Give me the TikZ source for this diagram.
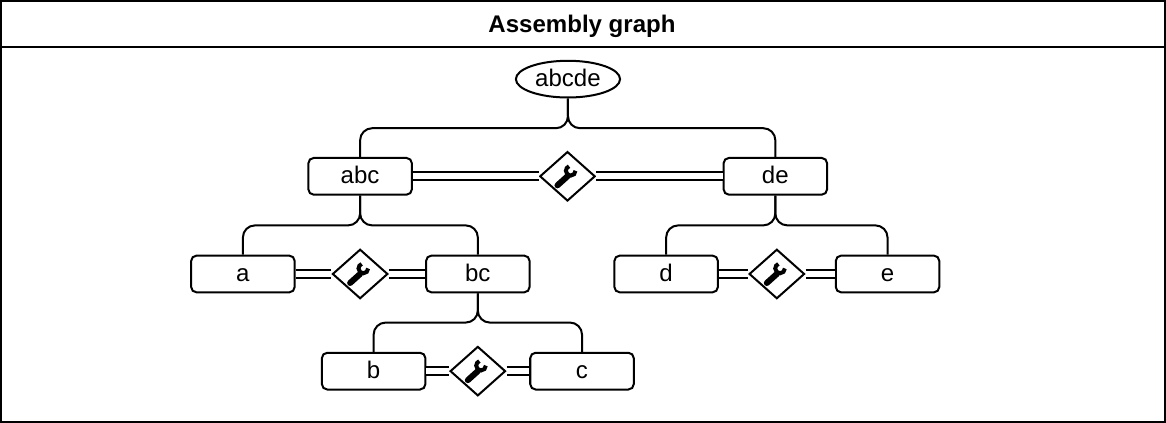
\documentclass[tikz,border=0pt]{standalone}
\usepackage{fontspec}
\setmainfont{Liberation Sans}
\usetikzlibrary{shapes.geometric}
\tikzset{
  label text/.style={text height=13.4pt,text depth=2.6pt,font=\fontsize{18}{20}\selectfont},
  part/.style={draw,rectangle,rounded corners=4pt,line width=1.5pt,fill=white,minimum width=77.5pt,minimum height=27.5pt,inner sep=0pt,label text},
  root/.style={draw,ellipse,line width=1.5pt,fill=white,minimum width=78pt,minimum height=27.5pt,inner sep=0pt,label text},
  joint/.style={draw,diamond,line width=1.5pt,fill=white,minimum width=41.5pt,minimum height=37pt,inner sep=0pt},
  tree/.style={line width=1.5pt,rounded corners=9pt},
  mate/.style={line width=1.5pt,double,double distance=4.3pt},
  wrench/.pic={
    \draw[line width=4.5pt,line cap=round,black] (-10,9) -- (0,0);
    \draw[line width=3pt,black] (8,-5.5) arc[start angle=0,end angle=250,radius=4.8];
  }
}
\begin{document}
\begin{tikzpicture}[x=0.75pt,y=-0.75pt]
\useasboundingbox (0,0) rectangle (1164,422);
% Draw frame
\draw[line width=1.5pt] (1,1) rectangle (1163,421);
\draw[line width=1.5pt] (1,47) -- (1163,47);
\node[label text,font=\fontsize{18}{20}\selectfont\bfseries] (title) at (581,25) {Assembly graph};
% Draw parts
\node[root] (abcde) at (567,79) {abcde};
\node[part] (abc) at (359.5,176) {abc};
\node[part] (de) at (774,176) {de};
\node[part] (a) at (242.5,273.5) {a};
\node[part] (bc) at (477,273.5) {bc};
\node[part] (d) at (665,273.5) {d};
\node[part] (e) at (886,273.5) {e};
\node[part] (b) at (373,370.5) {b};
\node[part] (c) at (581,370.5) {c};
% Draw joints
\node[joint] (jabc) at (566.5,176) {};
\node[joint] (ja) at (359.5,273.5) {};
\node[joint] (jd) at (775.5,273.5) {};
\node[joint] (jb) at (477,370.5) {};
% Draw double lines
\draw[mate] (abc) -- (jabc);
\draw[mate] (jabc) -- (de);
\draw[mate] (a) -- (ja);
\draw[mate] (ja) -- (bc);
\draw[mate] (d) -- (jd);
\draw[mate] (jd) -- (e);
\draw[mate] (b) -- (jb);
\draw[mate] (jb) -- (c);
% Draw tree
\coordinate (leftroot) at (abc |- 0,128);
\coordinate (rightroot) at (de |- 0,128);
\coordinate (midroot) at (abcde |- 0,128);
\draw[tree] (abcde.south) -- (midroot) -- (leftroot) -- (abc.north);
\draw[tree] (abcde.south) -- (midroot) -- (rightroot) -- (de.north);
\coordinate (leftabc) at (a |- 0,225);
\coordinate (rightabc) at (bc |- 0,225);
\coordinate (midabc) at (abc |- 0,225);
\draw[tree] (abc.south) -- (midabc) -- (leftabc) -- (a.north);
\draw[tree] (abc.south) -- (midabc) -- (rightabc) -- (bc.north);
\coordinate (leftde) at (d |- 0,225);
\coordinate (rightde) at (e |- 0,225);
\coordinate (midde) at (de |- 0,225);
\draw[tree] (de.south) -- (midde) -- (leftde) -- (d.north);
\draw[tree] (de.south) -- (midde) -- (rightde) -- (e.north);
\coordinate (leftbc) at (b |- 0,322);
\coordinate (rightbc) at (c |- 0,322);
\coordinate (midbc) at (bc |- 0,322);
\draw[tree] (bc.south) -- (midbc) -- (leftbc) -- (b.north);
\draw[tree] (bc.south) -- (midbc) -- (rightbc) -- (c.north);
% Draw wrenches
\pic at (jabc) {wrench};
\pic at (ja) {wrench};
\pic at (jd) {wrench};
\pic at (jb) {wrench};
\end{tikzpicture}
\end{document}
